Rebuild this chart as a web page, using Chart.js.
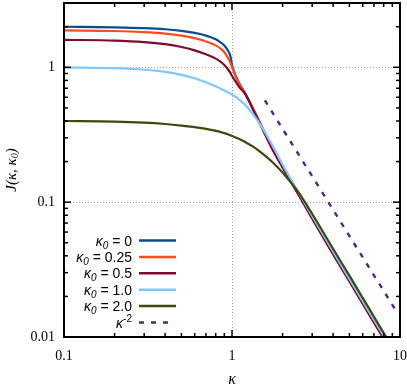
<!DOCTYPE html>
<html><head><meta charset="utf-8">
<script src="https://cdn.jsdelivr.net/npm/chart.js@4.4.1/dist/chart.umd.min.js"></script>
<style>html,body{margin:0;padding:0;background:#fff}#wrap{width:407px;height:386px}</style>
</head><body><div id="wrap"><canvas id="c" width="407" height="386"></canvas></div>
<script>
// ---- data ----
const kappa = [0.1,0.2,0.3,0.4,0.5,0.6,0.7,0.8,0.85,0.9,0.95,0.98,1.0,1.02,1.05,1.1,1.2,1.35,1.5,1.75,2,2.5,3,4,5,6.5,8,10];
const J_k0_000 = [2.0,1.98,1.954,1.917,1.866,1.80,1.72,1.615,1.54,1.45,1.32,1.2,1.04,0.96,0.87,0.77,0.64,0.48,0.367,0.247,0.184,0.114,0.077,0.0417,0.0263,0.0152,0.0099,0.0063];
const J_k0_025 = [1.88,1.86,1.825,1.78,1.72,1.645,1.555,1.455,1.385,1.295,1.165,1.075,1.0,0.94,0.86,0.765,0.637,0.478,0.365,0.246,0.183,0.1135,0.0766,0.0415,0.0262,0.0151,0.0098,0.0063];
const J_k0_050 = [1.60,1.58,1.54,1.485,1.415,1.335,1.25,1.16,1.105,1.04,0.96,0.905,0.865,0.83,0.785,0.72,0.632,0.472,0.36,0.243,0.181,0.112,0.0755,0.041,0.0258,0.0149,0.0097,0.0062];
const J_k0_100 = [1.0,0.985,0.96,0.925,0.88,0.83,0.775,0.723,0.697,0.674,0.651,0.638,0.628,0.619,0.605,0.578,0.525,0.44,0.363,0.26,0.19,0.117,0.079,0.043,0.027,0.0156,0.0102,0.0065];
const J_k0_200 = [0.40,0.396,0.389,0.38,0.37,0.36,0.35,0.338,0.332,0.325,0.318,0.313,0.31,0.307,0.302,0.295,0.279,0.256,0.232,0.197,0.166,0.117,0.082,0.045,0.0285,0.0165,0.0107,0.0069];
const kappaRef = [1.57, 9.4];
const J_ref = [0.568, 0.0159];
const seriesK0 = ['0','0.25','0.5','1.0','2.0'];
const xTickValues = [0.1,0.2,0.3,0.4,0.5,0.6,0.7,0.8,0.9,1,2,3,4,5,6,7,8,9,10];
const yTickValues = [0.01,0.02,0.03,0.04,0.05,0.06,0.07,0.08,0.09,0.1,0.2,0.3,0.4,0.5,0.6,0.7,0.8,0.9,1,2,3];
const xLabelValues = [0.1,1,10];
const yLabelValues = [0.01,0.1,1];
const xLabels = ['0.1','1','10'];
const yLabels = ['0.01','0.1','1'];

const colors = ['#0b4d8c','#ff4d1f','#7a0c2c','#80c8ff','#3b4a0e'];
const refColor = '#4e2a80';
const seriesJ = [J_k0_000,J_k0_025,J_k0_050,J_k0_100,J_k0_200];

const pts = (xs, ys) => xs.map((v,i)=>({x:v,y:ys[i]}));
const datasets = seriesJ.map((arr,i)=>({
  label:'κ0 = '+seriesK0[i], data:pts(kappa,arr), borderColor:colors[i], borderWidth:2.2,
  pointRadius:0, fill:false, cubicInterpolationMode:'monotone', order:5-i
}));
datasets.push({label:'κ-2', data:pts(kappaRef,J_ref), borderColor:refColor, borderWidth:2.4,
  borderDash:[5,7], pointRadius:0, fill:false, order:0});

const isMajor = v => Math.abs(Math.log10(v)-Math.round(Math.log10(v)))<1e-9;
const near = (a,b) => Math.abs(a-b) < 1e-9*Math.max(1,Math.abs(b));

function rich(ctx, parts, x, y, align){
  let w=0; parts.forEach(p=>{ctx.font=p.f; p.w=ctx.measureText(p.t).width; w+=p.w;});
  let cx = align==='right'? x-w : align==='center'? x-w/2 : x;
  parts.forEach(p=>{ctx.font=p.f; ctx.fillText(p.t, cx, y+(p.dy||0)); cx+=p.w;});
}

const deco = {
  id:'deco',
  afterDatasetsDraw(chart){
    const {ctx, chartArea:ca, scales:{x,y}} = chart;
    ctx.save();
    ctx.strokeStyle='#000'; ctx.lineWidth=1.5;
    const line=(a,b,c,d)=>{ctx.beginPath();ctx.moveTo(a,b);ctx.lineTo(c,d);ctx.stroke();};
    xTickValues.forEach(v=>{const p=x.getPixelForValue(v); const L=isMajor(v)?7:4;
      line(p,ca.bottom,p,ca.bottom-L); line(p,ca.top,p,ca.top+L);});
    yTickValues.forEach(v=>{const p=y.getPixelForValue(v); if(p<ca.top-0.5) return; const L=isMajor(v)?7:4;
      line(ca.left,p,ca.left+L,p); line(ca.right,p,ca.right-L,p);});
    ctx.lineWidth=2; ctx.strokeRect(ca.left,ca.top,ca.right-ca.left,ca.bottom-ca.top);

    // legend
    ctx.fillStyle='#000'; ctx.textBaseline='alphabetic';
    const tr = ca.left+68, l0 = ca.left+75, l1 = ca.left+112, r0 = ca.bottom-96.5, step=16.4;
    const sans='"Liberation Sans", Arial, sans-serif';
    seriesK0.forEach((k,i)=>{
      const ry = r0+step*i;
      rich(ctx,[{t:'κ',f:'italic 14px '+sans},{t:'0',f:'italic 10px '+sans,dy:3},{t:' = '+k,f:'14px '+sans}],tr,ry+5,'right');
      ctx.strokeStyle=colors[i]; ctx.lineWidth=2.5; line(l0,ry,l1,ry);
    });
    const ry = r0+step*5;
    rich(ctx,[{t:'κ',f:'italic 14px '+sans},{t:'-2',f:'10px '+sans,dy:-6}],tr,ry+5,'right');
    ctx.strokeStyle=refColor; ctx.lineWidth=2.5; ctx.setLineDash([5,7]); line(l0,ry,l0+29,ry); ctx.setLineDash([]);

    // axis titles
    const serif='"Liberation Serif", "Times New Roman", serif';
    ctx.textBaseline='middle';
    rich(ctx,[{t:'κ',f:'italic 16px '+serif}],(ca.left+ca.right)/2,380,'center');
    ctx.translate(12,(ca.top+ca.bottom)/2); ctx.rotate(-Math.PI/2);
    rich(ctx,[{t:'J(κ, κ',f:'italic 15px '+serif},{t:'0',f:'italic 10px '+serif,dy:3},{t:')',f:'italic 15px '+serif}],0,0,'center');
    ctx.restore();
  }
};

const zeroPad = s => { s.paddingTop=0; s.paddingBottom=0; s.paddingLeft=0; s.paddingRight=0; };

new Chart(document.getElementById('c'),{
  type:'line',
  data:{datasets},
  options:{
    responsive:false, animation:false, events:[],
    layout:{padding:{top:3,right:7,left:0,bottom:0}},
    plugins:{legend:{display:false},tooltip:{enabled:false}},
    scales:{
      x:{type:'logarithmic', min:0.1, max:10, position:'bottom',
        afterBuildTicks:s=>{s.ticks=xTickValues.map(v=>({value:v}));},
        afterFit:s=>{s.height=49; zeroPad(s);},
        ticks:{autoSkip:false, maxRotation:0, padding:11, color:'#000',
          font:{family:'"Liberation Serif", serif', size:14},
          callback:(v)=>{const i=xLabelValues.findIndex(u=>near(v,u)); return i>=0?xLabels[i]:'';}},
        grid:{drawTicks:false, lineWidth:1, color:(c)=>(c.tick&&near(c.tick.value,1))?'#a0a0a0':'rgba(0,0,0,0)'},
        border:{display:false, dash:[1,2]}
      },
      y:{type:'logarithmic', min:0.01, max:3, position:'left',
        afterBuildTicks:s=>{s.ticks=yTickValues.map(v=>({value:v}));},
        afterFit:s=>{s.width=64; zeroPad(s);},
        ticks:{autoSkip:false, padding:9, color:'#000',
          font:{family:'"Liberation Serif", serif', size:14},
          callback:(v)=>{const i=yLabelValues.findIndex(u=>near(v,u)); return i>=0?yLabels[i]:'';}},
        grid:{drawTicks:false, lineWidth:1, color:(c)=>(c.tick&&(near(c.tick.value,1)||near(c.tick.value,0.1)))?'#a0a0a0':'rgba(0,0,0,0)'},
        border:{display:false, dash:[1,2]}
      }
    }
  },
  plugins:[deco]
});
</script></body></html>
